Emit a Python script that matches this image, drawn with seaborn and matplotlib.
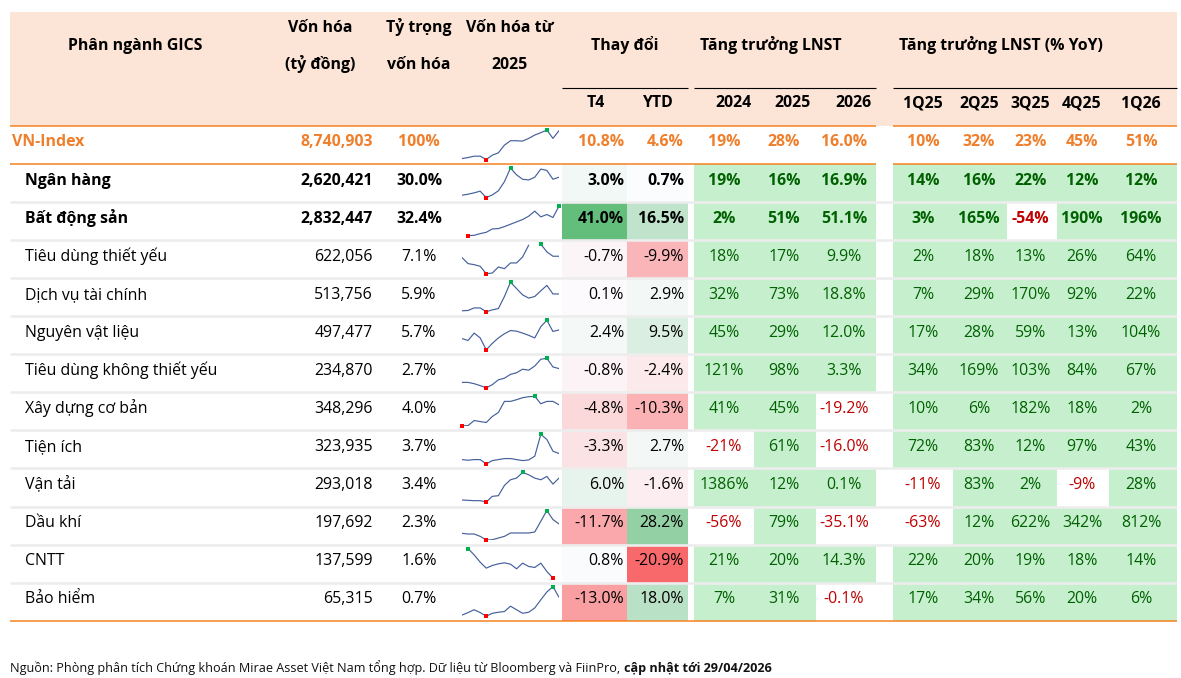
import numpy as np
import pandas as pd
import matplotlib
matplotlib.use("Agg")
import matplotlib.pyplot as plt
import seaborn as sns
from matplotlib.colors import LinearSegmentedColormap, ListedColormap, TwoSlopeNorm

sns.set_theme(style='white')
plt.rcParams['font.family'] = ['Open Sans', 'DejaVu Sans']

sectors = ['VN-Index', 'Ngân hàng', 'Bất động sản', 'Tiêu dùng thiết yếu', 'Dịch vụ tài chính',
           'Nguyên vật liệu', 'Tiêu dùng không thiết yếu', 'Xây dựng cơ bản', 'Tiện ích',
           'Vận tải', 'Dầu khí', 'CNTT', 'Bảo hiểm']
market_cap = [8740903, 2620421, 2832447, 622056, 513756, 497477, 234870, 348296,
              323935, 293018, 197692, 137599, 65315]
cap_weight = [100, 30.0, 32.4, 7.1, 5.9, 5.7, 2.7, 4.0, 3.7, 3.4, 2.3, 1.6, 0.7]
chg_t4 = [10.8, 3.0, 41.0, -0.7, 0.1, 2.4, -0.8, -4.8, -3.3, 6.0, -11.7, 0.8, -13.0]
chg_ytd = [4.6, 0.7, 16.5, -9.9, 2.9, 9.5, -2.4, -10.3, 2.7, -1.6, 28.2, -20.9, 18.0]
np_2024 = [19, 19, 2, 18, 32, 45, 121, 41, -21, 1386, -56, 21, 7]
np_2025 = [28, 16, 51, 17, 73, 29, 98, 45, 61, 12, 79, 20, 31]
np_2026 = [16.0, 16.9, 51.1, 9.9, 18.8, 12.0, 3.3, -19.2, -16.0, 0.1, -35.1, 14.3, -0.1]
np_1q25 = [10, 14, 3, 2, 7, 17, 34, 10, 72, -11, -63, 22, 17]
np_2q25 = [32, 16, 165, 18, 29, 28, 169, 6, 83, 83, 12, 20, 34]
np_3q25 = [23, 22, -54, 13, 170, 59, 103, 182, 12, 2, 622, 19, 56]
np_4q25 = [45, 12, 190, 26, 92, 13, 84, 18, 97, -9, 342, 18, 20]
np_1q26 = [51, 12, 196, 64, 22, 104, 67, 2, 43, 28, 812, 14, 6]

year_labels = ['2024', '2025', '2026']
quarter_labels = ['1Q25', '2Q25', '3Q25', '4Q25', '1Q26']

# market cap path since 2025 (relative level, read from the sparklines)
nan = np.nan
spark_vnindex = [10, 13, 17, 17, 7, 20, 27, 50, 63, 63, 62, 70, 80, 87, 95, 70, 93]
spark_bank = [15, 18, 22, 27, 8, 16, 28, 55, 95, 75, 62, 60, 68, 92, 88, 62, 68]
spark_realestate = [nan, 4, 5, 10, 14, 24, 25, 31, 38, 45, 52, 62, 77, 60, 67, 58, 92]
spark_staples = [58, 40, 37, 32, 10, 12, 30, 25, 42, 42, 60, 95, nan, 98, 75, 62, 62]
spark_finserv = [10, 11, 19, 19, 7, 13, 17, 55, 100, 80, 60, 50, 55, 73, 90, 63, 63]
spark_materials = [43, 37, 60, 45, 8, 28, 45, 58, 68, 66, 60, 53, 45, 80, 100, 65, 70]
spark_discretionary = [27, 27, 23, 17, 10, 20, 35, 40, 52, 57, 68, 65, 78, 99, 102, 75, 70]
spark_construction = [7, 8, 23, 20, 17, 35, 47, 80, 80, 85, 91, 94, 95, 73, 80, 80, 70]
spark_utilities = [20, 18, 20, 20, 7, 17, 20, 23, 23, 20, 17, 19, 30, 95, 80, 45, 38]
spark_transport = [14, 13, 12, 12, 8, 25, 27, 58, 75, 80, 97, 90, 80, 75, 85, 62, 80]
spark_oilgas = [29, 27, 27, 20, 9, 10, 15, 20, 30, 30, 30, 30, 33, 65, 97, 70, 57]
spark_it = [nan, 99, 80, 58, 40, 48, 53, 56, 52, 38, 55, 45, 42, 55, 30, 10, nan]
spark_insurance = [5, 12, 20, 12, 2, 10, 13, 15, 30, 20, 10, 13, 25, 48, 70, 85, 55]
sparklines = [spark_vnindex, spark_bank, spark_realestate, spark_staples, spark_finserv,
              spark_materials, spark_discretionary, spark_construction, spark_utilities,
              spark_transport, spark_oilgas, spark_it, spark_insurance]

# ---- colours ----
PEACH = '#FCE4D6'
ORANGE = '#F58220'
ORANGE_TXT = '#F07F2C'
GREEN_FILL = '#C6EFCE'
GREEN_TXT = '#006100'
RED_TXT = '#C00000'
SEP = '#EDEDED'
SPARK = '#44609C'

# ---- layout in pixels ----
W, H = 1181, 678
ROW0, RH = 126, 38.05
fig = plt.figure(figsize=(W / 100, H / 100), dpi=100)


def row_top(i):
    return ROW0 + RH * i


def px_axes(x0, y0, x1, y1, z=1):
    a = fig.add_axes([x0 / W, 1 - y1 / H, (x1 - x0) / W, (y1 - y0) / H])
    a.set_zorder(z)
    return a


bg = px_axes(0, 0, W, H, z=0)
bg.set_xlim(0, W)
bg.set_ylim(H, 0)
bg.axis('off')
bg.axhspan(12, 126, xmin=10 / W, xmax=1177 / W, color=PEACH, lw=0)

# T4 / YTD colour scale, shared across both columns (red - white - green, median as midpoint)
chg_all = np.array(chg_t4[1:] + chg_ytd[1:])
scale_cmap = LinearSegmentedColormap.from_list('scale', ['#F8696B', '#FCFCFF', '#63BE7B'])
scale_norm = TwoSlopeNorm(vmin=chg_all.min(), vcenter=np.median(chg_all), vmax=chg_all.max())
green_cmap = ListedColormap(['white', GREEN_FILL])


def cell_column(vals, x0, x1, cmap, norm=None):
    a = px_axes(x0, row_top(1), x1, row_top(13), z=2)
    d = pd.DataFrame({'v': vals})
    if norm is None:
        sns.heatmap(d, ax=a, cmap=cmap, vmin=0, vmax=1, cbar=False,
                    xticklabels=False, yticklabels=False)
    else:
        sns.heatmap(d, ax=a, cmap=cmap, norm=norm, cbar=False,
                    xticklabels=False, yticklabels=False)
    a.axis('off')


cell_column(chg_t4[1:], 562, 627, scale_cmap, scale_norm)
cell_column(chg_ytd[1:], 627, 688, scale_cmap, scale_norm)

growth_cols = [np_2024, np_2025, np_2026, np_1q25, np_2q25, np_3q25, np_4q25, np_1q26]
growth_edges = [(694, 754), (754, 815.5), (815.5, 876),
                (893, 953), (953, 1007), (1007, 1057), (1057, 1108.5), (1108.5, 1177)]
growth_centers = [724, 784, 844, 923, 979, 1030.5, 1082, 1141]
for col, (x0, x1) in zip(growth_cols, growth_edges):
    cell_column([1 if v > 0 else 0 for v in col[1:]], x0, x1, green_cmap)

# sparklines
for i, vals in enumerate(sparklines):
    vals = np.array(vals, dtype=float)
    a = px_axes(462, row_top(i) + 4, 559, row_top(i + 1) - 4.5, z=3)
    d = pd.DataFrame({'t': np.arange(len(vals)), 'v': vals})
    d['seg'] = d['v'].isna().cumsum()
    sns.lineplot(data=d.dropna(), x='t', y='v', units='seg', estimator=None,
                 color=SPARK, lw=0.85, ax=a)
    hi, lo = np.nanargmax(vals), np.nanargmin(vals)
    a.scatter([hi], [vals[hi]], marker='s', s=5, color='#00B050', lw=0, zorder=4, clip_on=False)
    a.scatter([lo], [vals[lo]], marker='s', s=5, color='#FF0000', lw=0, zorder=4, clip_on=False)
    a.set_xlim(0, len(vals) - 1)
    a.set_ylim(np.nanmin(vals), np.nanmax(vals))
    a.patch.set_alpha(0)
    a.axis('off')

# overlay: rules and all text
top = px_axes(0, 0, W, H, z=10)
top.set_xlim(0, W)
top.set_ylim(H, 0)
top.patch.set_alpha(0)
top.axis('off')

for i in range(2, 13):
    top.hlines(row_top(i), 10, 1177, color=SEP, lw=1.9)
for y in (row_top(0), row_top(1)):
    top.hlines(y, 10, 876, color=ORANGE, lw=1.1)
    top.hlines(y, 893, 1177, color=ORANGE, lw=1.1)
top.hlines(row_top(13), 10, 1177, color=ORANGE, lw=1.1)
for x0, x1 in [(562, 688), (694, 876), (893, 1177)]:
    top.hlines(88, x0, x1, color='black', lw=0.8)

FS = 11.4
hdr = dict(fontsize=FS, fontweight='bold', color='black', va='baseline')
top.text(135, 50, 'Phân ngành GICS', ha='center', **hdr)
top.text(320, 31.5, 'Vốn hóa', ha='center', **hdr)
top.text(320, 69, '(tỷ đồng)', ha='center', **hdr)
top.text(419, 31.5, 'Tỷ trọng', ha='center', **hdr)
top.text(419, 69, 'vốn hóa', ha='center', **hdr)
top.text(510, 31.5, 'Vốn hóa từ', ha='center', **hdr)
top.text(510, 69, '2025', ha='center', **hdr)
top.text(625, 50, 'Thay đổi', ha='center', **hdr)
top.text(771, 50, 'Tăng trưởng LNST', ha='center', **hdr)
top.text(1001, 50, 'Tăng trưởng LNST (% YoY)', ha='center', **hdr)
top.text(595.5, 107, 'T4', ha='center', **hdr)
top.text(657, 107, 'YTD', ha='center', **hdr)
for lab, xr in zip(year_labels, [752, 811, 872]):
    top.text(xr, 107, lab, ha='right', **hdr)
for lab, xc in zip(quarter_labels, growth_centers[3:]):
    top.text(xc, 107, lab, ha='center', **hdr)

for i, name in enumerate(sectors):
    y = row_top(i) + 20.5
    bold = 'bold' if i < 3 else 'normal'
    base = ORANGE_TXT if i == 0 else 'black'
    kw = dict(fontsize=FS, fontweight=bold, va='baseline')
    top.text(12 if i == 0 else 25, y, name, ha='left', color=base, **kw)
    top.text(373, y, f'{market_cap[i]:,}', ha='right', color=base, **kw)
    w = '100%' if cap_weight[i] == 100 else f'{cap_weight[i]:.1f}%'
    top.text(419, y, w, ha='center', color=base, **kw)
    top.text(624, y, f'{chg_t4[i]:.1f}%', ha='right', color=base, **kw)
    top.text(684, y, f'{chg_ytd[i]:.1f}%', ha='right', color=base, **kw)
    for j, (col, xc) in enumerate(zip(growth_cols, growth_centers)):
        v = col[i]
        txt = f'{v:.1f}%' if j == 2 else f'{v:.0f}%'
        c = base if i == 0 else (GREEN_TXT if v > 0 else RED_TXT)
        top.text(xc, y, txt, ha='center', color=c, **kw)

note = top.text(10, 672, 'Nguồn: Phòng phân tích Chứng khoán Mirae Asset Việt Nam tổng hợp. '
                'Dữ liệu từ Bloomberg và FiinPro,', fontsize=9.1, color='#111111', va='baseline')
top.annotate('cập nhật tới 29/04/2026', xy=(1, 0), xycoords=note, xytext=(2.5, 0),
             textcoords='offset points', fontsize=9.1, fontweight='bold', color='#111111',
             va='bottom')

fig.savefig('out.png', dpi=100)
